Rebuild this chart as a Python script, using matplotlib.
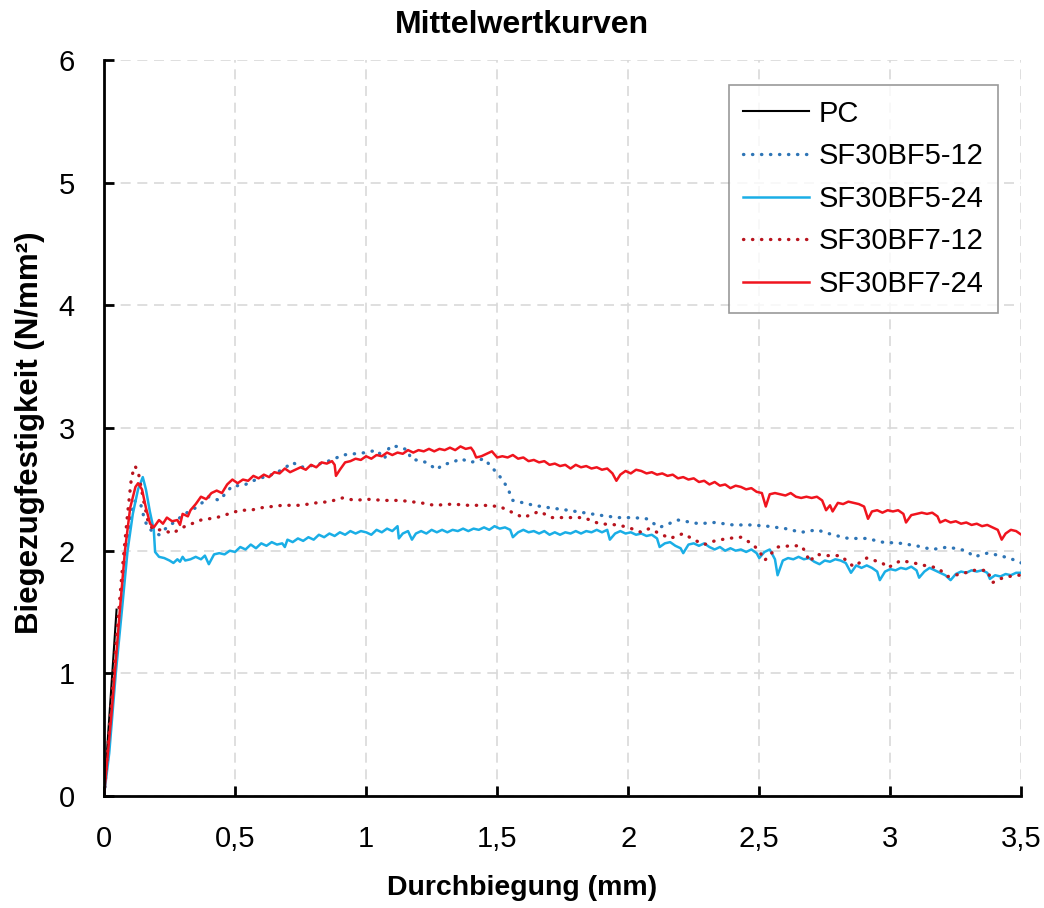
import numpy as np
import matplotlib
matplotlib.use("Agg")
import matplotlib.pyplot as plt
from matplotlib.ticker import MultipleLocator, FuncFormatter

plt.rcParams['font.family'] = ['Liberation Sans', 'DejaVu Sans']

# PC
x_pc = [0.0, 0.048]
y_pc = [0.0, 1.52]

# SF30BF5-12
x_b12 = [0.00, 0.03, 0.06, 0.08, 0.10, 0.115, 0.125, 0.14, 0.155, 0.17,
         0.21, 0.24, 0.28, 0.30, 0.35, 0.38, 0.40, 0.44, 0.49, 0.53,
         0.58, 0.64, 0.68, 0.72, 0.75, 0.81, 0.87, 0.91, 1.00, 1.04,
         1.07, 1.09, 1.12, 1.16, 1.17, 1.23, 1.27, 1.29, 1.33, 1.36,
         1.40, 1.45, 1.48, 1.50, 1.52, 1.54, 1.56, 1.60, 1.64, 1.70,
         1.77, 1.83, 1.89, 1.96, 2.02, 2.07, 2.12, 2.19, 2.27, 2.33,
         2.40, 2.47, 2.53, 2.60, 2.66, 2.72, 2.78, 2.84, 2.91, 2.97,
         3.04, 3.10, 3.16, 3.22, 3.29, 3.32, 3.37, 3.42, 3.48, 3.50]
y_b12 = [0.00, 0.75, 1.45, 1.90, 2.25, 2.40, 2.41, 2.38, 2.25, 2.18,
         2.13, 2.19, 2.25, 2.29, 2.35, 2.40, 2.44, 2.41, 2.53, 2.53,
         2.58, 2.62, 2.66, 2.72, 2.68, 2.70, 2.74, 2.78, 2.80, 2.82,
         2.75, 2.85, 2.85, 2.82, 2.75, 2.72, 2.66, 2.70, 2.72, 2.75,
         2.72, 2.75, 2.68, 2.63, 2.58, 2.51, 2.41, 2.39, 2.37, 2.35,
         2.33, 2.31, 2.29, 2.27, 2.27, 2.26, 2.19, 2.25, 2.22, 2.23,
         2.21, 2.21, 2.20, 2.18, 2.15, 2.17, 2.13, 2.10, 2.10, 2.07,
         2.06, 2.04, 2.01, 2.03, 2.00, 1.95, 1.98, 1.96, 1.92, 1.90]

# SF30BF5-24
x_b24 = [0.00, 0.02, 0.045, 0.07, 0.09, 0.11, 0.13, 0.148, 0.16, 0.175,
         0.19, 0.195, 0.21, 0.23, 0.25, 0.265, 0.28, 0.29, 0.30, 0.31,
         0.33, 0.35, 0.37, 0.385, 0.40, 0.42, 0.44, 0.46, 0.48, 0.50,
         0.52, 0.54, 0.56, 0.58, 0.60, 0.62, 0.64, 0.66, 0.68, 0.69,
         0.70, 0.72, 0.74, 0.76, 0.78, 0.80, 0.82, 0.84, 0.86, 0.88,
         0.90, 0.92, 0.94, 0.96, 0.98, 1.00, 1.02, 1.04, 1.06, 1.08,
         1.10, 1.12, 1.125, 1.14, 1.16, 1.175, 1.19, 1.21, 1.23, 1.25,
         1.27, 1.29, 1.31, 1.33, 1.35, 1.37, 1.39, 1.41, 1.43, 1.45,
         1.47, 1.49, 1.51, 1.53, 1.55, 1.56, 1.58, 1.60, 1.62, 1.64,
         1.66, 1.68, 1.70, 1.72, 1.74, 1.76, 1.78, 1.80, 1.82, 1.84,
         1.86, 1.88, 1.90, 1.92, 1.93, 1.95, 1.97, 1.99, 2.01, 2.03,
         2.05, 2.07, 2.09, 2.11, 2.12, 2.14, 2.16, 2.18, 2.20, 2.21,
         2.23, 2.25, 2.27, 2.29, 2.31, 2.33, 2.35, 2.37, 2.39, 2.41,
         2.43, 2.45, 2.47, 2.49, 2.50, 2.52, 2.54, 2.56, 2.57, 2.59,
         2.61, 2.63, 2.65, 2.67, 2.69, 2.71, 2.73, 2.75, 2.77, 2.79,
         2.81, 2.83, 2.85, 2.87, 2.89, 2.91, 2.93, 2.95, 2.96, 2.98,
         3.00, 3.02, 3.04, 3.06, 3.08, 3.10, 3.11, 3.13, 3.15, 3.17,
         3.19, 3.21, 3.23, 3.25, 3.27, 3.29, 3.31, 3.33, 3.35, 3.37,
         3.38, 3.40, 3.42, 3.44, 3.46, 3.48, 3.50]
y_b24 = [0.00, 0.35, 1.00, 1.55, 2.00, 2.30, 2.50, 2.60, 2.50, 2.32,
         2.17, 1.99, 1.95, 1.94, 1.92, 1.90, 1.93, 1.91, 1.95, 1.92,
         1.93, 1.95, 1.93, 1.96, 1.89, 1.97, 1.98, 1.97, 2.00, 1.99,
         2.03, 2.01, 2.05, 2.02, 2.06, 2.04, 2.07, 2.05, 2.06, 2.03,
         2.09, 2.07, 2.10, 2.08, 2.11, 2.09, 2.13, 2.11, 2.14, 2.12,
         2.15, 2.13, 2.16, 2.14, 2.16, 2.15, 2.13, 2.17, 2.15, 2.18,
         2.16, 2.20, 2.10, 2.14, 2.16, 2.09, 2.14, 2.16, 2.14, 2.17,
         2.15, 2.17, 2.15, 2.17, 2.16, 2.18, 2.16, 2.18, 2.17, 2.19,
         2.17, 2.20, 2.18, 2.19, 2.17, 2.11, 2.15, 2.17, 2.15, 2.16,
         2.14, 2.16, 2.13, 2.15, 2.13, 2.15, 2.14, 2.16, 2.14, 2.16,
         2.15, 2.17, 2.15, 2.17, 2.09, 2.14, 2.16, 2.14, 2.15, 2.13,
         2.14, 2.12, 2.13, 2.10, 2.03, 2.06, 2.07, 2.04, 2.02, 1.98,
         2.05, 2.06, 2.04, 2.06, 2.03, 2.01, 2.03, 2.00, 2.02, 2.00,
         2.01, 1.99, 2.01, 1.98, 1.94, 1.99, 2.01, 1.93, 1.80, 1.92,
         1.94, 1.93, 1.95, 1.93, 1.94, 1.91, 1.89, 1.92, 1.91, 1.93,
         1.92, 1.90, 1.82, 1.88, 1.86, 1.88, 1.86, 1.83, 1.76, 1.83,
         1.85, 1.84, 1.86, 1.85, 1.87, 1.84, 1.78, 1.83, 1.86, 1.84,
         1.82, 1.80, 1.76, 1.81, 1.83, 1.82, 1.84, 1.83, 1.84, 1.82,
         1.77, 1.80, 1.79, 1.81, 1.80, 1.82, 1.82]

# SF30BF7-12
x_r12 = [0.00, 0.03, 0.05, 0.07, 0.09, 0.105, 0.118, 0.13, 0.15, 0.17,
         0.19, 0.225, 0.26, 0.30, 0.37, 0.43, 0.52, 0.56, 0.60, 0.68,
         0.75, 0.81, 0.86, 0.91, 0.96, 1.00, 1.07, 1.13, 1.17, 1.21,
         1.26, 1.33, 1.39, 1.45, 1.51, 1.55, 1.60, 1.66, 1.71, 1.77,
         1.83, 1.89, 1.96, 2.00, 2.05, 2.08, 2.12, 2.16, 2.21, 2.25,
         2.29, 2.33, 2.38, 2.43, 2.47, 2.50, 2.52, 2.57, 2.62, 2.66,
         2.68, 2.69, 2.72, 2.76, 2.81, 2.86, 2.91, 2.97, 2.99, 3.04,
         3.09, 3.13, 3.18, 3.22, 3.27, 3.32, 3.37, 3.39, 3.43, 3.48,
         3.50]
y_r12 = [0.00, 0.80, 1.35, 1.85, 2.30, 2.60, 2.69, 2.65, 2.42, 2.22,
         2.17, 2.17, 2.14, 2.19, 2.25, 2.27, 2.33, 2.33, 2.35, 2.37,
         2.37, 2.39, 2.40, 2.43, 2.41, 2.42, 2.41, 2.41, 2.40, 2.39,
         2.37, 2.38, 2.37, 2.37, 2.36, 2.32, 2.27, 2.32, 2.27, 2.27,
         2.27, 2.22, 2.21, 2.19, 2.15, 2.18, 2.14, 2.10, 2.14, 2.09,
         2.05, 2.08, 2.10, 2.11, 2.06, 2.00, 1.92, 2.03, 2.04, 2.04,
         1.98, 1.91, 1.97, 1.96, 1.96, 1.87, 1.94, 1.90, 1.86, 1.92,
         1.90, 1.88, 1.86, 1.79, 1.81, 1.84, 1.84, 1.74, 1.78, 1.80,
         1.80]

# SF30BF7-24
x_r24 = [0.00, 0.03, 0.06, 0.08, 0.10, 0.12, 0.13, 0.145, 0.16, 0.176,
         0.19, 0.21, 0.225, 0.24, 0.26, 0.28, 0.29, 0.30, 0.32, 0.33,
         0.35, 0.37, 0.39, 0.41, 0.43, 0.45, 0.47, 0.49, 0.51, 0.53,
         0.55, 0.57, 0.59, 0.61, 0.63, 0.65, 0.67, 0.69, 0.71, 0.73,
         0.75, 0.77, 0.79, 0.81, 0.83, 0.85, 0.87, 0.88, 0.885, 0.90,
         0.92, 0.94, 0.96, 0.98, 1.00, 1.02, 1.04, 1.06, 1.08, 1.10,
         1.12, 1.14, 1.16, 1.18, 1.20, 1.22, 1.24, 1.26, 1.28, 1.30,
         1.32, 1.34, 1.36, 1.38, 1.40, 1.41, 1.42, 1.44, 1.46, 1.48,
         1.50, 1.52, 1.54, 1.56, 1.58, 1.60, 1.62, 1.64, 1.66, 1.68,
         1.70, 1.72, 1.74, 1.76, 1.78, 1.80, 1.82, 1.84, 1.86, 1.88,
         1.90, 1.92, 1.94, 1.955, 1.97, 1.99, 2.01, 2.03, 2.05, 2.07,
         2.09, 2.11, 2.13, 2.15, 2.17, 2.19, 2.21, 2.23, 2.25, 2.27,
         2.29, 2.31, 2.33, 2.35, 2.37, 2.39, 2.41, 2.43, 2.45, 2.47,
         2.49, 2.51, 2.525, 2.54, 2.56, 2.58, 2.60, 2.62, 2.64, 2.66,
         2.68, 2.70, 2.72, 2.74, 2.755, 2.77, 2.78, 2.80, 2.82, 2.84,
         2.86, 2.88, 2.90, 2.915, 2.93, 2.95, 2.97, 2.99, 3.01, 3.03,
         3.05, 3.06, 3.08, 3.10, 3.12, 3.14, 3.16, 3.18, 3.19, 3.21,
         3.23, 3.25, 3.27, 3.29, 3.31, 3.33, 3.35, 3.37, 3.39, 3.41,
         3.425, 3.44, 3.46, 3.48, 3.50]
y_r24 = [0.00, 0.70, 1.50, 2.00, 2.35, 2.52, 2.55, 2.50, 2.35, 2.22,
         2.19, 2.25, 2.22, 2.27, 2.24, 2.25, 2.21, 2.30, 2.28, 2.33,
         2.38, 2.44, 2.42, 2.47, 2.49, 2.47, 2.54, 2.58, 2.55, 2.58,
         2.57, 2.61, 2.59, 2.62, 2.60, 2.64, 2.63, 2.67, 2.64, 2.66,
         2.68, 2.66, 2.70, 2.68, 2.72, 2.71, 2.73, 2.70, 2.61, 2.66,
         2.72, 2.73, 2.75, 2.74, 2.77, 2.75, 2.78, 2.77, 2.80, 2.78,
         2.80, 2.79, 2.82, 2.80, 2.82, 2.81, 2.83, 2.81, 2.83, 2.82,
         2.84, 2.82, 2.85, 2.83, 2.84, 2.81, 2.76, 2.77, 2.79, 2.81,
         2.76, 2.77, 2.76, 2.78, 2.75, 2.76, 2.73, 2.74, 2.72, 2.73,
         2.70, 2.71, 2.69, 2.70, 2.67, 2.70, 2.68, 2.69, 2.67, 2.68,
         2.66, 2.67, 2.63, 2.57, 2.62, 2.65, 2.63, 2.66, 2.65, 2.63,
         2.64, 2.62, 2.63, 2.61, 2.62, 2.59, 2.60, 2.58, 2.59, 2.56,
         2.57, 2.54, 2.56, 2.53, 2.54, 2.51, 2.53, 2.52, 2.50, 2.51,
         2.48, 2.47, 2.36, 2.46, 2.47, 2.46, 2.45, 2.47, 2.44, 2.43,
         2.44, 2.43, 2.44, 2.41, 2.33, 2.37, 2.32, 2.39, 2.38, 2.40,
         2.39, 2.38, 2.36, 2.26, 2.32, 2.33, 2.31, 2.33, 2.32, 2.33,
         2.30, 2.23, 2.29, 2.30, 2.31, 2.30, 2.31, 2.28, 2.23, 2.25,
         2.23, 2.24, 2.22, 2.23, 2.21, 2.22, 2.20, 2.21, 2.19, 2.17,
         2.09, 2.14, 2.17, 2.16, 2.13]

fig = plt.figure(figsize=(10.44, 9.08), dpi=100)
ax = fig.add_axes([0.0996, 0.1233, 0.8787, 0.8106])

dots = (0, (0.1, 2.6))
ax.plot(x_pc, y_pc, color='black', lw=1.5, label='PC')
ax.plot(x_b12, y_b12, color='#2E75B6', lw=2.4, linestyle=dots,
        dash_capstyle='round', label='SF30BF5-12')
ax.plot(x_b24, y_b24, color='#1AAEE6', lw=1.8, label='SF30BF5-24')
ax.plot(x_r12, y_r12, color='#B8141E', lw=2.4, linestyle=dots,
        dash_capstyle='round', label='SF30BF7-12')
ax.plot(x_r24, y_r24, color='#F0141E', lw=1.8, label='SF30BF7-24')

ax.set_xlim(0, 3.5)
ax.set_ylim(0, 6)
ax.xaxis.set_major_locator(MultipleLocator(0.5))
ax.yaxis.set_major_locator(MultipleLocator(1))
ax.xaxis.set_major_formatter(FuncFormatter(lambda v, p: f'{v:g}'.replace('.', ',')))

ax.grid(True, color='#D9D9D9', lw=1.2, linestyle=(0, (6, 4)))
ax.set_axisbelow(True)
for s in ['top', 'right']:
    ax.spines[s].set_visible(False)
for s in ['left', 'bottom']:
    ax.spines[s].set_linewidth(2)
ax.tick_params(direction='in', length=7, width=2, labelsize=21, pad=21)

fig.text(0.5, 0.972, 'Mittelwertkurven', ha='center', va='center',
         fontsize=23, fontweight='bold')
fig.text(0.5, 0.022, 'Durchbiegung (mm)', ha='center', va='center',
         fontsize=20.5, fontweight='bold')
fig.text(0.029, 0.523, 'Biegezugfestigkeit (N/mm²)', ha='center', va='center',
         rotation=90, fontsize=22.5, fontweight='bold')

leg = ax.legend(loc='upper right', bbox_to_anchor=(0.975, 0.966),
                borderaxespad=0, fontsize=21, frameon=True, fancybox=False,
                handlelength=2.25, handletextpad=0.35, labelspacing=0.5,
                borderpad=0.5)
leg.get_frame().set_edgecolor('#808080')
leg.get_frame().set_linewidth(1.2)

fig.savefig('out.png', dpi=100)
